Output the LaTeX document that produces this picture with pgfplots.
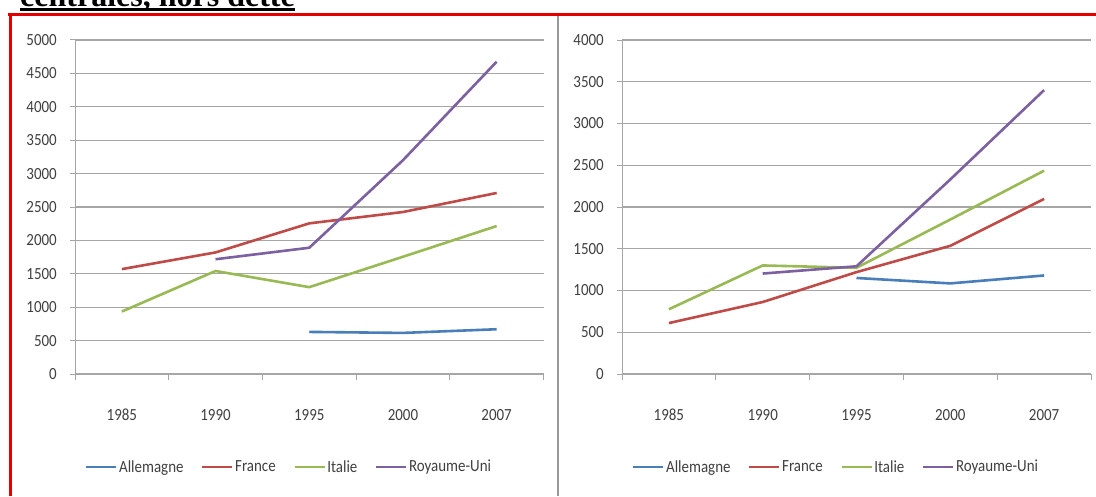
\documentclass[border=0pt]{standalone}
\usepackage{pgfplots}
\pgfplotsset{compat=1.18}
\usepackage{fontspec}
\setmainfont{Carlito}[FakeStretch=0.88]
\newfontfamily\titlefont{Liberation Serif}
\definecolor{xblue}{HTML}{4A7EBB}
\definecolor{xred}{HTML}{BE4B48}
\definecolor{xgreen}{HTML}{98B954}
\definecolor{xpurple}{HTML}{7D60A0}
\definecolor{xlab}{HTML}{404040}
\definecolor{xgrid}{HTML}{A6A6A6}
\pgfplotsset{
  excel/.style={
    scale only axis, height=334pt,
    xmin=-0.5, xmax=4.5, ymin=0,
    xtick={0,1,2,3,4}, xticklabels={1985,1990,1995,2000,2007},
    major x tick style={draw=none},
    minor xtick={-0.5,0.5,1.5,2.5,3.5,4.5},
    minor x tick style={xgrid, line width=1pt},
    minor tick length=6pt,
    major tick length=5pt,
    tick align=outside,
    axis lines*=left,
    axis line style={xgrid, line width=1pt},
    ytick style={xgrid, line width=1pt},
    ymajorgrids, grid style={xgrid, line width=1.3pt},
    /pgf/number format/assume math mode=true,
    /pgf/number format/1000 sep={},
    ticklabel style={font=\fontsize{17}{20}\selectfont, text=xlab},
    yticklabel style={anchor=east, inner sep=0pt, xshift=-13pt},
    xticklabel style={anchor=center, inner sep=0pt, yshift=-36pt},
    legend columns=4,
    legend style={at={(axis description cs:0.021,-0.278)}, anchor=west, draw=none, fill=none,
      font=\fontsize{17}{20}\selectfont, text=xlab, inner sep=0pt,
      nodes={inner sep=1.5pt},
      /tikz/every even column/.append style={column sep=16pt}},
    legend image code/.code={\draw[#1] (0pt,0pt) -- (30pt,0pt);},
    every axis plot/.append style={line width=2.6pt, line join=round},
    clip=false,
  }
}
\begin{document}
\begin{tikzpicture}[x=1pt,y=1pt]
\path[use as bounding box] (0,0) rectangle (1096,496);
\clip (0,0) rectangle (1096,496);
\fill[white] (0,0) rectangle (1096,496);
% title fragment
\node[anchor=base west, inner sep=0pt, font=\titlefont\bfseries\fontsize{32}{36}\selectfont] at (20,489) {centrales, hors dette};
\fill[black] (20,484.5) rectangle (295,488);
% frame
\draw[red!90!black, line width=3pt] (8,481.5) -- (1096,481.5);
\draw[red!90!black, line width=3pt] (10,0) -- (10,481.5);
\draw[gray!80, line width=2pt] (558,0) -- (558,480);

\begin{axis}[excel, at={(75pt,122pt)}, anchor=south west, width=468.5pt,
  ymax=5000, ytick={0,500,...,5000}]
\addplot[xblue] coordinates {(2,630) (3,615) (4,670)};
\addlegendentry{Allemagne}
\addplot[xred] coordinates {(0,1570) (1,1820) (2,2255) (3,2425) (4,2710)};
\addlegendentry{France}
\addplot[xgreen] coordinates {(0,935) (1,1542) (2,1300) (3,1755) (4,2215)};
\addlegendentry{Italie}
\addplot[xpurple] coordinates {(1,1718) (2,1890) (3,3200) (4,4675)};
\addlegendentry{Royaume-Uni}
\end{axis}

\begin{axis}[excel, at={(622pt,122pt)}, anchor=south west, width=469pt,
  ymax=4000, ytick={0,500,...,4000}]
\addplot[xblue] coordinates {(2,1150) (3,1085) (4,1180)};
\addlegendentry{Allemagne}
\addplot[xred] coordinates {(0,610) (1,862) (2,1220) (3,1535) (4,2097)};
\addlegendentry{France}
\addplot[xgreen] coordinates {(0,775) (1,1300) (2,1272) (3,1850) (4,2435)};
\addlegendentry{Italie}
\addplot[xpurple] coordinates {(1,1203) (2,1290) (3,2330) (4,3400)};
\addlegendentry{Royaume-Uni}
\end{axis}
\end{tikzpicture}
\end{document}
